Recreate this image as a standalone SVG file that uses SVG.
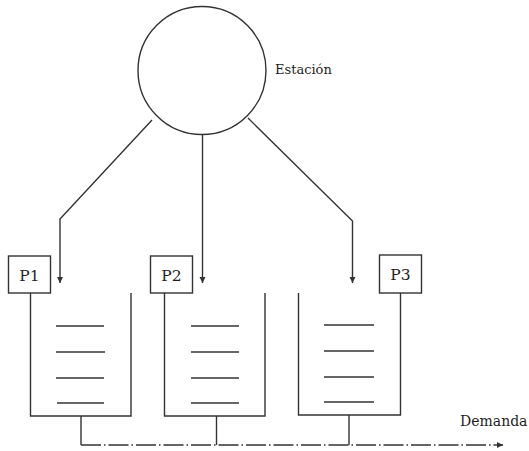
<svg xmlns="http://www.w3.org/2000/svg" width="529" height="451" viewBox="0 0 529 451">
<defs>
<style>
.ln{fill:none;stroke:#333;stroke-width:1.4}
.sh{fill:none;stroke:#333;stroke-width:1.5}
.bx{fill:#fff;stroke:#333;stroke-width:1.4}
.t{font-family:"DejaVu Serif","Liberation Serif",serif;fill:#1e1e1e}
</style>
<marker id="ah" viewBox="0 0 10 10" refX="10" refY="5" markerWidth="6" markerHeight="8" markerUnits="userSpaceOnUse" orient="auto">
<path d="M0,0 L10,5 L0,10 Z" fill="#333"/>
</marker>
<marker id="ah2" viewBox="0 0 10 10" refX="10" refY="5" markerWidth="7" markerHeight="6" markerUnits="userSpaceOnUse" orient="auto">
<path d="M0,0 L10,5 L0,10 Z" fill="#333"/>
</marker>
</defs>
<rect width="529" height="451" fill="#fff"/>
<g id="connectors">
<polyline class="ln" points="152,120 60,219 60,283" marker-end="url(#ah)"/>
<line class="ln" x1="202.5" y1="135" x2="202.5" y2="283" marker-end="url(#ah)"/>
<polyline class="ln" points="248,118 352.5,221 352.5,283" marker-end="url(#ah)"/>
<line class="ln" x1="81" y1="416" x2="81" y2="445"/>
<line class="ln" x1="216.5" y1="416" x2="216.5" y2="445"/>
<line class="ln" x1="349" y1="415" x2="349" y2="445"/>
<line class="ln" x1="81" y1="445" x2="503" y2="445" stroke-dasharray="20 3 1.5 3" marker-end="url(#ah2)"/>
</g>
<g id="estacion">
<circle class="ln" cx="202" cy="70.5" r="64"/>
<text class="t" x="275" y="74" font-size="13">Estación</text>
</g>
<g id="container1">
<polyline class="ln" points="30.5,293 30.5,416 131,416 131,293"/>
<line class="sh" x1="56" y1="326" x2="104" y2="326"/>
<line class="sh" x1="56" y1="352" x2="105" y2="352"/>
<line class="sh" x1="56" y1="378" x2="104" y2="378"/>
<line class="sh" x1="57" y1="403" x2="104" y2="403"/>
</g>
<g id="container2">
<polyline class="ln" points="164.5,293 164.5,416 265,416 265,293"/>
<line class="sh" x1="191" y1="326" x2="239" y2="326"/>
<line class="sh" x1="191" y1="352" x2="239" y2="352"/>
<line class="sh" x1="191" y1="378" x2="239" y2="378"/>
<line class="sh" x1="191" y1="403" x2="239" y2="403"/>
</g>
<g id="container3">
<polyline class="ln" points="298.5,293 298.5,415 400.5,415 400.5,293"/>
<line class="sh" x1="324" y1="325" x2="374" y2="325"/>
<line class="sh" x1="324" y1="351" x2="374" y2="351"/>
<line class="sh" x1="324" y1="377" x2="374" y2="377"/>
<line class="sh" x1="324" y1="402" x2="374" y2="402"/>
</g>
<g id="p1">
<rect class="bx" x="8.5" y="256" width="42" height="37"/>
<text class="t" x="29.5" y="280.5" font-size="15.5" text-anchor="middle">P1</text>
</g>
<g id="p2">
<rect class="bx" x="150.5" y="256" width="42" height="37"/>
<text class="t" x="171.5" y="280.5" font-size="15.5" text-anchor="middle">P2</text>
</g>
<g id="p3">
<rect class="bx" x="379.5" y="255" width="42" height="38"/>
<text class="t" x="400.5" y="280" font-size="15.5" text-anchor="middle">P3</text>
</g>
<g id="demanda">
<text class="t" x="460" y="426" font-size="14">Demanda</text>
</g>
</svg>
